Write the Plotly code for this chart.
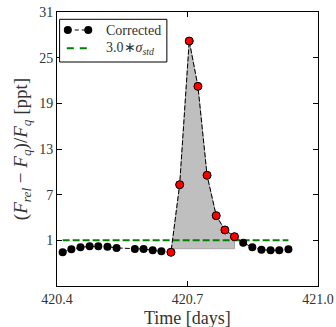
import plotly.graph_objects as go

# Data
time = [420.413, 420.433, 420.454, 420.475, 420.495, 420.516, 420.537, 420.579,
        420.599, 420.620, 420.640, 420.662, 420.682, 420.704, 420.724, 420.745,
        420.766, 420.786, 420.808, 420.828, 420.849, 420.870, 420.891, 420.911, 420.932]
flux = [-0.57, -0.18, 0.08, 0.21, 0.21, 0.17, 0.0, -0.14,
        -0.14, -0.31, -0.44, -0.57, 8.31, 27.19, 21.23, 9.54,
        4.24, 2.36, 1.48, 0.69, 0.08, -0.23, -0.31, -0.31, -0.18]
flare_start, flare_end = 11, 18  # indices (inclusive) of flare points
threshold = 1.0
baseline = -0.1

xticks = [420.4, 420.7, 421.0]
xticklabels = ["420.4", "420.7", "421.0"]
yticks = [1, 7, 13, 19, 25, 31]
legend_labels = ["Corrected", "3.0∗<i>σ</i><sub><i>std</i></sub>"]
xtitle = "Time [days]"
ytitle = "(<i>F</i><sub><i>rel</i></sub> − <i>F</i><sub><i>q</i></sub>)/<i>F</i><sub><i>q</i></sub> [ppt]"

FONT = "Liberation Serif"
TXT = "#333"

fx = time[flare_start:flare_end + 1]
fy = flux[flare_start:flare_end + 1]

fig = go.Figure()

# shaded flare area
fig.add_trace(go.Scatter(
    x=fx + [fx[-1], fx[0]], y=fy + [baseline, baseline],
    fill="toself", fillcolor="#bfbfbf", mode="lines",
    line=dict(color="#a6a6a6", width=1), showlegend=False, hoverinfo="skip"))

# threshold
fig.add_trace(go.Scatter(
    x=[time[0], time[-1]], y=[threshold, threshold], mode="lines",
    line=dict(color="#008000", width=2, dash="7px,3px"),
    name=legend_labels[1]))

# corrected light curve
fig.add_trace(go.Scatter(
    x=time, y=flux, mode="lines+markers",
    line=dict(color="black", width=1, dash="5px,2px"),
    marker=dict(color="black", size=8),
    name=legend_labels[0]))

# flare points
fig.add_trace(go.Scatter(
    x=fx, y=fy, mode="markers",
    marker=dict(color="red", size=8, line=dict(color="black", width=1)),
    showlegend=False))

axis_common = dict(showline=True, linecolor="black", linewidth=1, mirror="ticks",
                   ticks="inside", ticklen=5, tickcolor="black", showgrid=False,
                   zeroline=False, automargin=False,
                   tickfont=dict(family=FONT, size=14, color=TXT))

# ---- hand-built legend (matplotlib style) in pixel -> paper coordinates
PL, PR, PT, PB = 56.7, 318.0, 12.0, 286.0
def px(x): return (x - PL) / (PR - PL)
def py(y): return 1 - (y - PT) / (PB - PT)

shapes = [
    dict(type="rect", xref="paper", yref="paper",
         x0=px(59.3), x1=px(166.7), y0=py(62), y1=py(19.3),
         line=dict(color="black", width=1), fillcolor="white", layer="above"),
    dict(type="line", xref="paper", yref="paper",
         x0=px(67.5), x1=px(88), y0=py(30), y1=py(30),
         line=dict(color="black", width=1, dash="4px,3px"), layer="above"),
    dict(type="line", xref="paper", yref="paper",
         x0=px(66.5), x1=px(87), y0=py(48.3), y1=py(48.3),
         line=dict(color="#008000", width=2, dash="7px,6px"), layer="above"),
]
for mx in (67.5, 88):
    shapes.append(dict(type="circle", xref="paper", yref="paper",
                       xsizemode="pixel", ysizemode="pixel",
                       xanchor=px(mx), yanchor=py(30),
                       x0=-4, x1=4, y0=-4, y1=4,
                       fillcolor="black", line=dict(color="black", width=0),
                       layer="above"))

annotations = [
    dict(text=legend_labels[0], xref="paper", yref="paper", x=px(104), y=py(30),
         xanchor="left", yanchor="middle", showarrow=False,
         font=dict(family=FONT, size=14, color=TXT)),
    dict(text=legend_labels[1], xref="paper", yref="paper", x=px(104), y=py(48.3),
         xanchor="left", yanchor="middle", showarrow=False,
         font=dict(family=FONT, size=14, color=TXT)),
    dict(text=xtitle, xref="paper", yref="paper", x=0.5, y=py(329),
         xanchor="center", yanchor="bottom", showarrow=False, borderpad=0,
         font=dict(family=FONT, size=18, color=TXT)),
]

fig.update_layout(
    width=336, height=327,
    margin=dict(l=57, r=18, t=12, b=41),
    paper_bgcolor="white", plot_bgcolor="white",
    font=dict(family=FONT, color=TXT),
    xaxis=dict(range=[420.4, 421.0], tickvals=xticks, ticktext=xticklabels,
               ticklabelstandoff=0,
               **axis_common),
    yaxis=dict(range=[-5, 31], tickvals=yticks,
               title=dict(text=ytitle, font=dict(family=FONT, size=19, color=TXT),
                          standoff=6),
               **axis_common),
    shapes=shapes,
    annotations=annotations,
    showlegend=False,
)

fig.write_html("out.html")
